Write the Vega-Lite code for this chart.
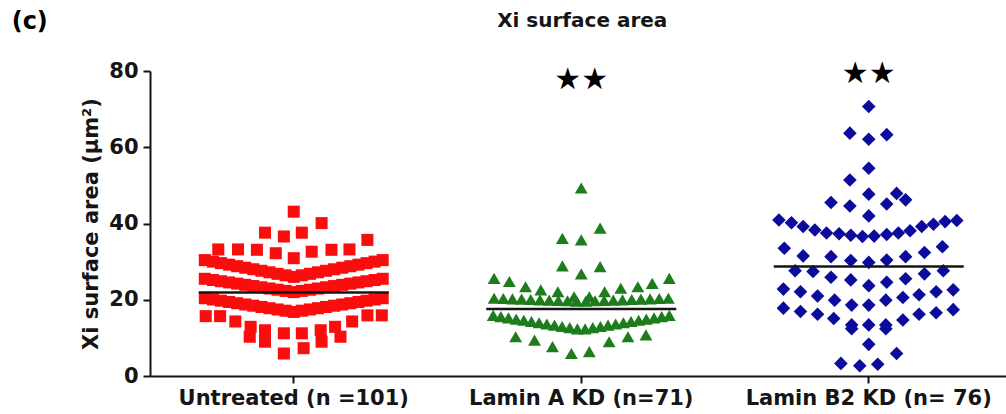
{
  "$schema": "https://vega.github.io/schema/vega-lite/v6.json",
  "width": 856,
  "height": 305,
  "autosize": {"type": "none"},
  "padding": {"left": 150, "top": 71, "right": 0, "bottom": 38},
  "background": "white",
  "config": {
    "view": {"stroke": null},
    "font": "DejaVu Sans",
    "axis": {
      "grid": false,
      "domainColor": "#151515",
      "domainWidth": 2,
      "tickColor": "#151515",
      "tickWidth": 2,
      "tickSize": 7,
      "labelFont": "DejaVu Sans",
      "labelFontWeight": "bold",
      "labelFontSize": 21,
      "labelColor": "#151515",
      "labelLimit": 400,
      "titleFont": "DejaVu Sans",
      "titleFontWeight": "bold",
      "titleFontSize": 21,
      "titleColor": "#151515"
    }
  },
  "datasets": {
    "cells": [
      {"group": "Untreated", "col": 0, "area": 43.1},
      {"group": "Untreated", "col": 3.1, "area": 40.1},
      {"group": "Untreated", "col": -3.2, "area": 37.6},
      {"group": "Untreated", "col": -1.1, "area": 36.6},
      {"group": "Untreated", "col": 0.9, "area": 37.6},
      {"group": "Untreated", "col": 8.2, "area": 35.7},
      {"group": "Untreated", "col": -8.4, "area": 33.2},
      {"group": "Untreated", "col": -6.2, "area": 33.2},
      {"group": "Untreated", "col": -4.1, "area": 33.1},
      {"group": "Untreated", "col": -2.0, "area": 32.2},
      {"group": "Untreated", "col": 0, "area": 30.9},
      {"group": "Untreated", "col": 2.0, "area": 32.6},
      {"group": "Untreated", "col": 4.2, "area": 33.1},
      {"group": "Untreated", "col": 6.2, "area": 33.2},

      {"group": "Untreated", "col": -9.9, "area": 30.4},
      {"group": "Untreated", "col": -9.0, "area": 30.0},
      {"group": "Untreated", "col": -8.1, "area": 29.6},
      {"group": "Untreated", "col": -7.2, "area": 29.2},
      {"group": "Untreated", "col": -6.3, "area": 28.8},
      {"group": "Untreated", "col": -5.4, "area": 28.4},
      {"group": "Untreated", "col": -4.5, "area": 28.0},
      {"group": "Untreated", "col": -3.6, "area": 27.6},
      {"group": "Untreated", "col": -2.7, "area": 27.2},
      {"group": "Untreated", "col": -1.8, "area": 26.8},
      {"group": "Untreated", "col": -0.9, "area": 26.4},
      {"group": "Untreated", "col": 0, "area": 26.0},
      {"group": "Untreated", "col": 0.9, "area": 26.4},
      {"group": "Untreated", "col": 1.8, "area": 26.8},
      {"group": "Untreated", "col": 2.7, "area": 27.2},
      {"group": "Untreated", "col": 3.6, "area": 27.6},
      {"group": "Untreated", "col": 4.5, "area": 28.0},
      {"group": "Untreated", "col": 5.4, "area": 28.4},
      {"group": "Untreated", "col": 6.3, "area": 28.8},
      {"group": "Untreated", "col": 7.2, "area": 29.2},
      {"group": "Untreated", "col": 8.1, "area": 29.6},
      {"group": "Untreated", "col": 9.0, "area": 30.0},
      {"group": "Untreated", "col": 9.9, "area": 30.4},

      {"group": "Untreated", "col": -9.9, "area": 25.5},
      {"group": "Untreated", "col": -9.0, "area": 25.18},
      {"group": "Untreated", "col": -8.1, "area": 24.86},
      {"group": "Untreated", "col": -7.2, "area": 24.55},
      {"group": "Untreated", "col": -6.3, "area": 24.23},
      {"group": "Untreated", "col": -5.4, "area": 23.91},
      {"group": "Untreated", "col": -4.5, "area": 23.59},
      {"group": "Untreated", "col": -3.6, "area": 23.27},
      {"group": "Untreated", "col": -2.7, "area": 22.95},
      {"group": "Untreated", "col": -1.8, "area": 22.64},
      {"group": "Untreated", "col": -0.9, "area": 22.32},
      {"group": "Untreated", "col": 0, "area": 22.0},
      {"group": "Untreated", "col": 0.9, "area": 22.32},
      {"group": "Untreated", "col": 1.8, "area": 22.64},
      {"group": "Untreated", "col": 2.7, "area": 22.95},
      {"group": "Untreated", "col": 3.6, "area": 23.27},
      {"group": "Untreated", "col": 4.5, "area": 23.59},
      {"group": "Untreated", "col": 5.4, "area": 23.91},
      {"group": "Untreated", "col": 6.3, "area": 24.23},
      {"group": "Untreated", "col": 7.2, "area": 24.55},
      {"group": "Untreated", "col": 8.1, "area": 24.86},
      {"group": "Untreated", "col": 9.0, "area": 25.18},
      {"group": "Untreated", "col": 9.9, "area": 25.5},

      {"group": "Untreated", "col": -9.9, "area": 20.4},
      {"group": "Untreated", "col": -9.0, "area": 20.07},
      {"group": "Untreated", "col": -8.1, "area": 19.75},
      {"group": "Untreated", "col": -7.2, "area": 19.42},
      {"group": "Untreated", "col": -6.3, "area": 19.09},
      {"group": "Untreated", "col": -5.4, "area": 18.76},
      {"group": "Untreated", "col": -4.5, "area": 18.44},
      {"group": "Untreated", "col": -3.6, "area": 18.11},
      {"group": "Untreated", "col": -2.7, "area": 17.78},
      {"group": "Untreated", "col": -1.8, "area": 17.45},
      {"group": "Untreated", "col": -0.9, "area": 17.13},
      {"group": "Untreated", "col": 0, "area": 16.8},
      {"group": "Untreated", "col": 0.9, "area": 17.13},
      {"group": "Untreated", "col": 1.8, "area": 17.45},
      {"group": "Untreated", "col": 2.7, "area": 17.78},
      {"group": "Untreated", "col": 3.6, "area": 18.11},
      {"group": "Untreated", "col": 4.5, "area": 18.44},
      {"group": "Untreated", "col": 5.4, "area": 18.76},
      {"group": "Untreated", "col": 6.3, "area": 19.09},
      {"group": "Untreated", "col": 7.2, "area": 19.42},
      {"group": "Untreated", "col": 8.1, "area": 19.75},
      {"group": "Untreated", "col": 9.0, "area": 20.07},
      {"group": "Untreated", "col": 9.9, "area": 20.4},

      {"group": "Untreated", "col": -9.8, "area": 15.7},
      {"group": "Untreated", "col": -8.2, "area": 15.7},
      {"group": "Untreated", "col": 8.2, "area": 15.9},
      {"group": "Untreated", "col": 9.8, "area": 15.9},
      {"group": "Untreated", "col": -6.5, "area": 14.3},
      {"group": "Untreated", "col": 6.5, "area": 14.3},
      {"group": "Untreated", "col": -4.8, "area": 12.9},
      {"group": "Untreated", "col": -4.9, "area": 10.3},
      {"group": "Untreated", "col": -3.2, "area": 12.0},
      {"group": "Untreated", "col": -3.2, "area": 9.0},
      {"group": "Untreated", "col": -1.1, "area": 11.2},
      {"group": "Untreated", "col": -1.1, "area": 5.9},
      {"group": "Untreated", "col": 0.9, "area": 11.2},
      {"group": "Untreated", "col": 1.1, "area": 7.3},
      {"group": "Untreated", "col": 3.0, "area": 12.0},
      {"group": "Untreated", "col": 3.1, "area": 9.0},
      {"group": "Untreated", "col": 4.6, "area": 12.9},
      {"group": "Untreated", "col": 5.2, "area": 10.3},

      {"group": "Lamin A KD", "col": 0, "area": 49.3},
      {"group": "Lamin A KD", "col": 2.1, "area": 38.8},
      {"group": "Lamin A KD", "col": -2.1, "area": 36.1},
      {"group": "Lamin A KD", "col": 0, "area": 35.7},
      {"group": "Lamin A KD", "col": -2.1, "area": 28.9},
      {"group": "Lamin A KD", "col": 2.1, "area": 28.7},
      {"group": "Lamin A KD", "col": 0, "area": 26.8},

      {"group": "Lamin A KD", "col": -9.7, "area": 25.6},
      {"group": "Lamin A KD", "col": -8.0, "area": 24.8},
      {"group": "Lamin A KD", "col": -6.2, "area": 23.4},
      {"group": "Lamin A KD", "col": -4.5, "area": 22.6},
      {"group": "Lamin A KD", "col": -2.6, "area": 22.1},
      {"group": "Lamin A KD", "col": -0.8, "area": 20.8},
      {"group": "Lamin A KD", "col": 0.9, "area": 20.8},
      {"group": "Lamin A KD", "col": 2.6, "area": 22.1},
      {"group": "Lamin A KD", "col": 4.4, "area": 23.0},
      {"group": "Lamin A KD", "col": 6.3, "area": 23.4},
      {"group": "Lamin A KD", "col": 7.9, "area": 24.3},
      {"group": "Lamin A KD", "col": 9.8, "area": 25.6},

      {"group": "Lamin A KD", "col": -9.7, "area": 20.4},
      {"group": "Lamin A KD", "col": -8.68, "area": 20.32},
      {"group": "Lamin A KD", "col": -7.66, "area": 20.23},
      {"group": "Lamin A KD", "col": -6.64, "area": 20.15},
      {"group": "Lamin A KD", "col": -5.62, "area": 20.06},
      {"group": "Lamin A KD", "col": -4.59, "area": 19.98},
      {"group": "Lamin A KD", "col": -3.57, "area": 19.89},
      {"group": "Lamin A KD", "col": -2.55, "area": 19.81},
      {"group": "Lamin A KD", "col": -1.53, "area": 19.73},
      {"group": "Lamin A KD", "col": -0.51, "area": 19.64},
      {"group": "Lamin A KD", "col": 0.51, "area": 19.64},
      {"group": "Lamin A KD", "col": 1.53, "area": 19.73},
      {"group": "Lamin A KD", "col": 2.55, "area": 19.81},
      {"group": "Lamin A KD", "col": 3.57, "area": 19.89},
      {"group": "Lamin A KD", "col": 4.59, "area": 19.98},
      {"group": "Lamin A KD", "col": 5.62, "area": 20.06},
      {"group": "Lamin A KD", "col": 6.64, "area": 20.15},
      {"group": "Lamin A KD", "col": 7.66, "area": 20.23},
      {"group": "Lamin A KD", "col": 8.68, "area": 20.32},
      {"group": "Lamin A KD", "col": 9.7, "area": 20.4},

      {"group": "Lamin A KD", "col": -9.8, "area": 15.9},
      {"group": "Lamin A KD", "col": -8.95, "area": 15.58},
      {"group": "Lamin A KD", "col": -8.1, "area": 15.26},
      {"group": "Lamin A KD", "col": -7.24, "area": 14.93},
      {"group": "Lamin A KD", "col": -6.39, "area": 14.61},
      {"group": "Lamin A KD", "col": -5.54, "area": 14.29},
      {"group": "Lamin A KD", "col": -4.69, "area": 13.97},
      {"group": "Lamin A KD", "col": -3.83, "area": 13.65},
      {"group": "Lamin A KD", "col": -2.98, "area": 13.33},
      {"group": "Lamin A KD", "col": -2.13, "area": 13.0},
      {"group": "Lamin A KD", "col": -1.28, "area": 12.68},
      {"group": "Lamin A KD", "col": -0.43, "area": 12.36},
      {"group": "Lamin A KD", "col": 0.43, "area": 12.36},
      {"group": "Lamin A KD", "col": 1.28, "area": 12.68},
      {"group": "Lamin A KD", "col": 2.13, "area": 13.0},
      {"group": "Lamin A KD", "col": 2.98, "area": 13.33},
      {"group": "Lamin A KD", "col": 3.83, "area": 13.65},
      {"group": "Lamin A KD", "col": 4.69, "area": 13.97},
      {"group": "Lamin A KD", "col": 5.54, "area": 14.29},
      {"group": "Lamin A KD", "col": 6.39, "area": 14.61},
      {"group": "Lamin A KD", "col": 7.24, "area": 14.93},
      {"group": "Lamin A KD", "col": 8.1, "area": 15.26},
      {"group": "Lamin A KD", "col": 8.95, "area": 15.58},
      {"group": "Lamin A KD", "col": 9.8, "area": 15.9},

      {"group": "Lamin A KD", "col": -7.3, "area": 10.3},
      {"group": "Lamin A KD", "col": -5.2, "area": 9.4},
      {"group": "Lamin A KD", "col": -3.2, "area": 7.7},
      {"group": "Lamin A KD", "col": -1.1, "area": 5.9},
      {"group": "Lamin A KD", "col": 0.9, "area": 6.4},
      {"group": "Lamin A KD", "col": 3.1, "area": 9.0},
      {"group": "Lamin A KD", "col": 5.2, "area": 10.3},
      {"group": "Lamin A KD", "col": 7.2, "area": 10.8},

      {"group": "Lamin B2 KD", "col": 0, "area": 70.7},
      {"group": "Lamin B2 KD", "col": -2.1, "area": 63.7},
      {"group": "Lamin B2 KD", "col": 0, "area": 62.1},
      {"group": "Lamin B2 KD", "col": 2.0, "area": 63.3},
      {"group": "Lamin B2 KD", "col": 0, "area": 54.5},
      {"group": "Lamin B2 KD", "col": -2.1, "area": 51.4},
      {"group": "Lamin B2 KD", "col": 0, "area": 47.7},
      {"group": "Lamin B2 KD", "col": 3.1, "area": 47.9},
      {"group": "Lamin B2 KD", "col": 4.1, "area": 46.2},
      {"group": "Lamin B2 KD", "col": -4.2, "area": 45.5},
      {"group": "Lamin B2 KD", "col": -2.1, "area": 44.6},
      {"group": "Lamin B2 KD", "col": 2.0, "area": 45.1},
      {"group": "Lamin B2 KD", "col": 0, "area": 42.0},

      {"group": "Lamin B2 KD", "col": -10.0, "area": 40.9},
      {"group": "Lamin B2 KD", "col": -8.6, "area": 40.2},
      {"group": "Lamin B2 KD", "col": -7.3, "area": 39.2},
      {"group": "Lamin B2 KD", "col": -6.0, "area": 38.3},
      {"group": "Lamin B2 KD", "col": -4.7, "area": 37.5},
      {"group": "Lamin B2 KD", "col": -3.3, "area": 37.3},
      {"group": "Lamin B2 KD", "col": -2.0, "area": 36.9},
      {"group": "Lamin B2 KD", "col": -0.7, "area": 36.6},
      {"group": "Lamin B2 KD", "col": 0.6, "area": 36.7},
      {"group": "Lamin B2 KD", "col": 2.0, "area": 37.1},
      {"group": "Lamin B2 KD", "col": 3.3, "area": 37.5},
      {"group": "Lamin B2 KD", "col": 4.6, "area": 38.1},
      {"group": "Lamin B2 KD", "col": 5.9, "area": 39.2},
      {"group": "Lamin B2 KD", "col": 7.2, "area": 39.8},
      {"group": "Lamin B2 KD", "col": 8.5, "area": 40.5},
      {"group": "Lamin B2 KD", "col": 9.8, "area": 40.8},

      {"group": "Lamin B2 KD", "col": -9.4, "area": 33.5},
      {"group": "Lamin B2 KD", "col": -7.3, "area": 31.5},
      {"group": "Lamin B2 KD", "col": -4.2, "area": 31.3},
      {"group": "Lamin B2 KD", "col": -2.0, "area": 30.3},
      {"group": "Lamin B2 KD", "col": 0, "area": 29.8},
      {"group": "Lamin B2 KD", "col": 2.0, "area": 30.4},
      {"group": "Lamin B2 KD", "col": 4.1, "area": 31.3},
      {"group": "Lamin B2 KD", "col": 6.2, "area": 32.4},
      {"group": "Lamin B2 KD", "col": 8.2, "area": 33.9},

      {"group": "Lamin B2 KD", "col": -8.2, "area": 27.6},
      {"group": "Lamin B2 KD", "col": -6.2, "area": 27.4},
      {"group": "Lamin B2 KD", "col": -4.2, "area": 25.9},
      {"group": "Lamin B2 KD", "col": -2.0, "area": 25.2},
      {"group": "Lamin B2 KD", "col": 0, "area": 23.7},
      {"group": "Lamin B2 KD", "col": 2.0, "area": 24.6},
      {"group": "Lamin B2 KD", "col": 4.1, "area": 25.5},
      {"group": "Lamin B2 KD", "col": 6.2, "area": 26.8},
      {"group": "Lamin B2 KD", "col": 8.3, "area": 27.6},

      {"group": "Lamin B2 KD", "col": -9.5, "area": 22.8},
      {"group": "Lamin B2 KD", "col": -7.6, "area": 22.1},
      {"group": "Lamin B2 KD", "col": -5.7, "area": 21.0},
      {"group": "Lamin B2 KD", "col": -3.8, "area": 19.9},
      {"group": "Lamin B2 KD", "col": -1.9, "area": 18.6},
      {"group": "Lamin B2 KD", "col": 0, "area": 18.6},
      {"group": "Lamin B2 KD", "col": 1.9, "area": 19.9},
      {"group": "Lamin B2 KD", "col": 3.8, "area": 20.6},
      {"group": "Lamin B2 KD", "col": 5.6, "area": 21.3},
      {"group": "Lamin B2 KD", "col": 7.5, "area": 22.1},
      {"group": "Lamin B2 KD", "col": 9.4, "area": 22.6},

      {"group": "Lamin B2 KD", "col": -9.5, "area": 17.8},
      {"group": "Lamin B2 KD", "col": -7.6, "area": 16.9},
      {"group": "Lamin B2 KD", "col": -5.7, "area": 16.2},
      {"group": "Lamin B2 KD", "col": -3.9, "area": 15.1},
      {"group": "Lamin B2 KD", "col": -1.9, "area": 13.4},
      {"group": "Lamin B2 KD", "col": -1.9, "area": 12.4},
      {"group": "Lamin B2 KD", "col": 0, "area": 13.4},
      {"group": "Lamin B2 KD", "col": 1.9, "area": 13.4},
      {"group": "Lamin B2 KD", "col": 1.9, "area": 12.4},
      {"group": "Lamin B2 KD", "col": 3.8, "area": 14.7},
      {"group": "Lamin B2 KD", "col": 5.6, "area": 16.2},
      {"group": "Lamin B2 KD", "col": 7.5, "area": 16.6},
      {"group": "Lamin B2 KD", "col": 9.4, "area": 17.4},

      {"group": "Lamin B2 KD", "col": 0, "area": 8.3},
      {"group": "Lamin B2 KD", "col": 3.1, "area": 5.9},
      {"group": "Lamin B2 KD", "col": -3.1, "area": 3.3},
      {"group": "Lamin B2 KD", "col": -1.0, "area": 2.7},
      {"group": "Lamin B2 KD", "col": 1.0, "area": 3.1}
    ],
    "means": [
      {"group": "Untreated", "area": 21.9},
      {"group": "Lamin A KD", "area": 17.6},
      {"group": "Lamin B2 KD", "area": 28.7}
    ]
  },
  "layer": [
    {
      "data": {"name": "cells"},
      "mark": {"type": "point", "filled": true, "opacity": 1, "strokeWidth": 0},
      "encoding": {
        "x": {
          "field": "group",
          "type": "nominal",
          "title": null,
          "scale": {
            "type": "band",
            "domain": ["Untreated", "Lamin A KD", "Lamin B2 KD"],
            "paddingInner": 0,
            "paddingOuter": 0,
            "range": [0, 862.5]
          },
          "axis": {
            "labelAngle": 0,
            "labelPadding": 4,
            "labelExpr": "datum.value == 'Untreated' ? 'Untreated (n =101)' : datum.value == 'Lamin A KD' ? 'Lamin A KD (n=71)' : 'Lamin B2 KD (n= 76)'"
          }
        },
        "xOffset": {"field": "col", "type": "quantitative", "scale": {"domain": [-16, 16]}},
        "y": {
          "field": "area",
          "type": "quantitative",
          "title": "Xi surface area (μm²)",
          "scale": {"domain": [0, 80], "nice": false, "zero": true},
          "axis": {"values": [0, 20, 40, 60, 80], "labelPadding": 5, "titlePadding": 7}
        },
        "color": {
          "field": "group",
          "type": "nominal",
          "legend": null,
          "scale": {"domain": ["Untreated", "Lamin A KD", "Lamin B2 KD"], "range": ["#fb0d0d", "#1d7d1d", "#0c0c9c"]}
        },
        "shape": {
          "field": "group",
          "type": "nominal",
          "legend": null,
          "scale": {"domain": ["Untreated", "Lamin A KD", "Lamin B2 KD"], "range": ["square", "triangle-up", "diamond"]}
        },
        "size": {
          "field": "group",
          "type": "nominal",
          "legend": null,
          "scale": {"domain": ["Untreated", "Lamin A KD", "Lamin B2 KD"], "range": [145, 185, 140]}
        }
      }
    },
    {
      "data": {"name": "means"},
      "mark": {"type": "tick", "size": 190, "thickness": 2.5, "color": "#151515", "opacity": 1},
      "encoding": {
        "x": {"field": "group", "type": "nominal", "title": null},
        "y": {"field": "area", "type": "quantitative", "title": "Xi surface area (μm²)"}
      }
    },
    {
      "data": {"values": [{"group": "Lamin A KD", "mark": "★★"}]},
      "mark": {"type": "text", "fontSize": 30, "color": "#000000", "baseline": "middle", "align": "center", "font": "DejaVu Sans"},
      "encoding": {
        "x": {"field": "group", "type": "nominal", "title": null},
        "y": {"datum": 77.7},
        "text": {"field": "mark"}
      }
    },
    {
      "data": {"values": [{"group": "Lamin B2 KD", "mark": "★★"}]},
      "mark": {"type": "text", "fontSize": 30, "color": "#000000", "baseline": "middle", "align": "center", "font": "DejaVu Sans"},
      "encoding": {
        "x": {"field": "group", "type": "nominal", "title": null},
        "y": {"datum": 79.3},
        "text": {"field": "mark"}
      }
    },
    {
      "data": {"values": [{"group": "Lamin A KD", "heading": "Xi surface area"}]},
      "mark": {"type": "text", "fontSize": 20, "fontWeight": "bold", "color": "#151515", "baseline": "middle", "align": "center", "font": "DejaVu Sans", "dx": 1, "dy": -50},
      "encoding": {
        "x": {"field": "group", "type": "nominal", "title": null},
        "y": {"datum": 80},
        "text": {"field": "heading"}
      }
    },
    {
      "data": {"values": [{"group": "Untreated", "tag": "(c)"}]},
      "mark": {"type": "text", "fontSize": 24, "fontWeight": "bold", "color": "#000000", "baseline": "middle", "align": "center", "font": "DejaVu Sans", "dx": -264, "dy": -49},
      "encoding": {
        "x": {"field": "group", "type": "nominal", "title": null},
        "y": {"datum": 80},
        "text": {"field": "tag"}
      }
    }
  ]
}
